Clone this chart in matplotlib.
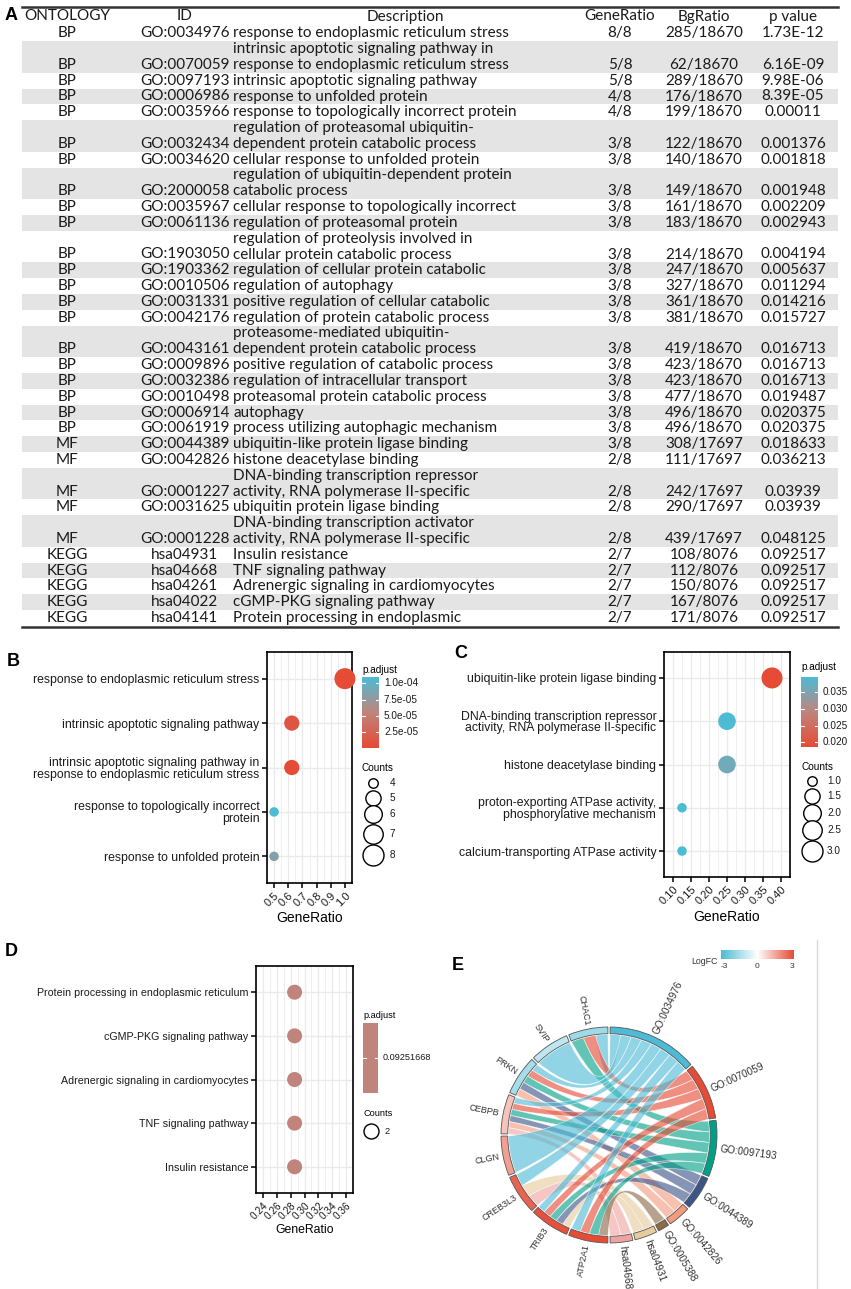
import numpy as np
import matplotlib.pyplot as plt
from matplotlib.colors import LinearSegmentedColormap, Normalize
from matplotlib.path import Path
from matplotlib.patches import PathPatch, Wedge, Rectangle

plt.rcParams['font.family'] = ['Liberation Sans', 'DejaVu Sans']

# ---------------- panel A: table ----------------
ontology = ['BP'] * 21 + ['MF'] * 5 + ['KEGG'] * 5
term_ids = ['GO:0034976', 'GO:0070059', 'GO:0097193', 'GO:0006986', 'GO:0035966',
            'GO:0032434', 'GO:0034620', 'GO:2000058', 'GO:0035967', 'GO:0061136',
            'GO:1903050', 'GO:1903362', 'GO:0010506', 'GO:0031331', 'GO:0042176',
            'GO:0043161', 'GO:0009896', 'GO:0032386', 'GO:0010498', 'GO:0006914',
            'GO:0061919', 'GO:0044389', 'GO:0042826', 'GO:0001227', 'GO:0031625',
            'GO:0001228', 'hsa04931', 'hsa04668', 'hsa04261', 'hsa04022', 'hsa04141']
descriptions = [
    'response to endoplasmic reticulum stress',
    'intrinsic apoptotic signaling pathway in\nresponse to endoplasmic reticulum stress',
    'intrinsic apoptotic signaling pathway',
    'response to unfolded protein',
    'response to topologically incorrect protein',
    'regulation of proteasomal ubiquitin-\ndependent protein catabolic process',
    'cellular response to unfolded protein',
    'regulation of ubiquitin-dependent protein\ncatabolic process',
    'cellular response to topologically incorrect',
    'regulation of proteasomal protein',
    'regulation of proteolysis involved in\ncellular protein catabolic process',
    'regulation of cellular protein catabolic',
    'regulation of autophagy',
    'positive regulation of cellular catabolic',
    'regulation of protein catabolic process',
    'proteasome-mediated ubiquitin-\ndependent protein catabolic process',
    'positive regulation of catabolic process',
    'regulation of intracellular transport',
    'proteasomal protein catabolic process',
    'autophagy',
    'process utilizing autophagic mechanism',
    'ubiquitin-like protein ligase binding',
    'histone deacetylase binding',
    'DNA-binding transcription repressor\nactivity, RNA polymerase II-specific',
    'ubiquitin protein ligase binding',
    'DNA-binding transcription activator\nactivity, RNA polymerase II-specific',
    'Insulin resistance',
    'TNF signaling pathway',
    'Adrenergic signaling in cardiomyocytes',
    'cGMP-PKG signaling pathway',
    'Protein processing in endoplasmic']
gene_ratio = ['8/8', '5/8', '5/8', '4/8', '4/8'] + ['3/8'] * 17 + ['2/8'] * 4 + ['2/7'] * 5
bg_ratio = ['285/18670', '62/18670', '289/18670', '176/18670', '199/18670', '122/18670',
            '140/18670', '149/18670', '161/18670', '183/18670', '214/18670', '247/18670',
            '327/18670', '361/18670', '381/18670', '419/18670', '423/18670', '423/18670',
            '477/18670', '496/18670', '496/18670', '308/17697', '111/17697', '242/17697',
            '290/17697', '439/17697', '108/8076', '112/8076', '150/8076', '167/8076',
            '171/8076']
p_values = ['1.73E-12', '6.16E-09', '9.98E-06', '8.39E-05', '0.00011', '0.001376',
            '0.001818', '0.001948', '0.002209', '0.002943', '0.004194', '0.005637',
            '0.011294', '0.014216', '0.015727', '0.016713', '0.016713', '0.016713',
            '0.019487', '0.020375', '0.020375', '0.018633', '0.036213', '0.03939',
            '0.03939', '0.048125', '0.092517', '0.092517', '0.092517', '0.092517',
            '0.092517']
headers = ['ONTOLOGY', 'ID', 'Description', 'GeneRatio', 'BgRatio', 'p value']

# ---------------- panel B/C/D: dot plots ----------------
b_terms = ['response to endoplasmic reticulum stress',
           'intrinsic apoptotic signaling pathway',
           'intrinsic apoptotic signaling pathway in\nresponse to endoplasmic reticulum stress',
           'response to topologically incorrect\nprotein',
           'response to unfolded protein']
b_ratio = [1.0, 0.625, 0.625, 0.5, 0.5]
b_padj = [1.73e-12, 9.98e-06, 6.16e-09, 1.1e-04, 8.39e-05]
b_count = [8, 5, 5, 4, 4]

c_terms = ['ubiquitin-like protein ligase binding',
           'DNA-binding transcription repressor\nactivity, RNA polymerase II-specific',
           'histone deacetylase binding',
           'proton-exporting ATPase activity,\nphosphorylative mechanism',
           'calcium-transporting ATPase activity']
c_ratio = [0.375, 0.25, 0.25, 0.125, 0.125]
c_padj = [0.018633, 0.03939, 0.036213, 0.03939, 0.03939]
c_count = [3, 2, 2, 1, 1]

d_terms = ['Protein processing in endoplasmic reticulum', 'cGMP-PKG signaling pathway',
           'Adrenergic signaling in cardiomyocytes', 'TNF signaling pathway',
           'Insulin resistance']
d_ratio = [2 / 7] * 5
d_padj = [0.09251668] * 5
d_count = [2] * 5

# ---------------- panel E: chord ----------------
genes = ['CHAC1', 'SVIP', 'PRKN', 'CEBPB', 'CLGN', 'CREB3L3', 'TRIB3', 'ATP2A1']
gene_logfc = [-1.6, -1.1, -1.5, 1.0, 1.6, 2.6, 2.9, 3.0]
chord_terms = ['GO:0034976', 'GO:0070059', 'GO:0097193', 'GO:0044389', 'GO:0042826',
               'GO:0005388', 'hsa04931', 'hsa04668']
term_colors = ['#4DBBD5', '#E64B35', '#00A087', '#3C5488', '#F39B7F', '#8C6A48',
               '#E6CB9C', '#EFA3A0']
# rows = genes, cols = chord_terms
links = np.array([
    [1, 1, 1, 0, 0, 0, 0, 0],   # CHAC1
    [1, 0, 0, 0, 0, 0, 0, 0],   # SVIP
    [1, 1, 1, 1, 1, 0, 0, 0],   # PRKN
    [1, 1, 1, 1, 1, 0, 0, 1],   # CEBPB
    [1, 0, 0, 0, 0, 0, 0, 0],   # CLGN
    [1, 0, 0, 0, 0, 0, 1, 1],   # CREB3L3
    [1, 1, 1, 1, 0, 0, 1, 0],   # TRIB3
    [1, 1, 1, 0, 0, 1, 0, 0],   # ATP2A1
])

W, H = 851, 1289
fig = plt.figure(figsize=(W / 100, H / 100), dpi=100)


def px_axes(x0, y0, x1, y1):
    return fig.add_axes([x0 / W, 1 - y1 / H, (x1 - x0) / W, (y1 - y0) / H])


over = px_axes(0, 0, W, H)
over.set_xlim(0, W)
over.set_ylim(H, 0)
over.axis('off')

# ---- table ----
tfont = dict(family=['Lato', 'DejaVu Sans'], fontsize=11, color='#1a1a1a')
tx0, tx1 = 22, 838
col_x = [67, 185, 405, 620, 704, 793]
desc_left = 233
line_h = 15.8
over.plot([tx0, tx1], [7, 7], color='#333333', lw=1.8)
for x, h in zip(col_x, headers):
    over.text(x, 16.5, h, ha='center', va='center', **tfont)
y = 25.4
for i in range(len(term_ids)):
    lines = descriptions[i].split('\n')
    hgt = len(lines) * line_h
    if i % 2 == 1:
        over.add_patch(Rectangle((tx0, y), tx1 - tx0, hgt, color='#e4e4e4', lw=0))
    yb = y + hgt - line_h / 2
    over.text(col_x[0], yb, ontology[i], ha='center', va='center', **tfont)
    over.text(col_x[1], yb, term_ids[i], ha='center', va='center', **tfont)
    for k, ln in enumerate(lines):
        over.text(desc_left, y + line_h / 2 + k * line_h, ln, ha='left', va='center', **tfont)
    over.text(col_x[3], yb, gene_ratio[i], ha='center', va='center', **tfont)
    over.text(col_x[4], yb, bg_ratio[i], ha='center', va='center', **tfont)
    over.text(col_x[5], yb, p_values[i], ha='center', va='center', **tfont)
    y += hgt
over.plot([tx0, tx1], [y + 1.5, y + 1.5], color='#333333', lw=1.8)

# panel letters
for lab, (lx, ly) in zip('ABCDE', [(11, 15), (13, 661), (461, 654), (11, 952), (458, 965)]):
    over.text(lx, ly, lab, ha='center', va='center', fontsize=13, fontweight='bold')

padj_cmap = LinearSegmentedColormap.from_list('padj', ['#E64B35', '#C0847C', '#4EBBD5'])
fc_cmap = LinearSegmentedColormap.from_list('fc', ['#4DBBD5', '#FFFFFF', '#E64B35'])


def diam(c, cmin, cmax, dmin=9.5, dmax=21):
    if cmax == cmin:
        return 15.0
    return dmin + (dmax - dmin) * np.sqrt((np.asarray(c, float) - cmin) / (cmax - cmin))


def dot_panel(box, terms, ratio, padj, counts, xlim, xticks, xfmt, vmin, vmax,
              yfs=8.8, xfs=8, labfs=10):
    ax = px_axes(*box)
    yy = np.arange(len(terms))
    d = diam(counts, min(counts), max(counts))
    norm = Normalize(vmin, vmax) if vmax > vmin else Normalize(vmin - 1, vmin + 1)
    ax.scatter(ratio, yy, s=(d * 0.72) ** 2, c=padj, cmap=padj_cmap, norm=norm,
               edgecolors='none', zorder=3, clip_on=False)
    ax.set_xlim(xlim)
    ax.set_ylim(len(terms) - 0.4, -0.6)
    ax.set_xticks(xticks)
    step = xticks[1] - xticks[0]
    ax.set_xticks(np.arange(xticks[0] - step / 2, xticks[-1] + step, step), minor=True)
    ax.set_xticklabels([xfmt.format(v) for v in xticks], rotation=45, ha='right',
                       rotation_mode='anchor', fontsize=xfs, color='#1a1a1a')
    ax.set_yticks(yy)
    ax.set_yticklabels(terms, fontsize=yfs, color='#1a1a1a', linespacing=0.95)
    ax.grid(which='major', color='#ebebeb', lw=1.0, zorder=0)
    ax.grid(which='minor', axis='x', color='#ebebeb', lw=0.55, zorder=0)
    ax.set_axisbelow(True)
    ax.tick_params(which='major', length=3.5, width=1.1, pad=2)
    ax.tick_params(which='minor', length=0)
    for s in ax.spines.values():
        s.set_linewidth(1.2)
    ax.set_xlabel('GeneRatio', fontsize=labfs, labelpad=2)
    return norm


def colorbar_legend(x0, y0, x1, y1, norm, ticks, labels, single=False, fs=7.2):
    grad = np.linspace(1, 0, 100)[:, None]
    if single:
        over.add_patch(Rectangle((x0, y0), x1 - x0, y1 - y0,
                                 color=padj_cmap(0.5), lw=0))
    else:
        over.imshow(grad, extent=[x0, x1, y1, y0], aspect='auto', cmap=padj_cmap,
                    vmin=0, vmax=1, zorder=2)
    for t, lab in zip(ticks, labels):
        ty = (y0 + y1) / 2 if single else y1 - norm(t) * (y1 - y0)
        over.plot([x0, x0 + 3], [ty, ty], color='white', lw=0.8, zorder=3)
        over.plot([x1 - 3, x1], [ty, ty], color='white', lw=0.8, zorder=3)
        over.text(x1 + 5, ty, lab, ha='left', va='center', fontsize=fs, color='#1a1a1a')


def size_legend(x, ys, values, labels, lx, cmin, cmax, d=None, fs=7.2):
    for yv, v, lab in zip(ys, values, labels):
        dd = diam(v, cmin, cmax) if d is None else d
        over.scatter([x], [yv], s=(dd * 0.72) ** 2, facecolors='white',
                     edgecolors='black', linewidths=1.0, zorder=3)
        over.text(lx, yv, lab, ha='left', va='center', fontsize=fs, color='#1a1a1a')


# B
nb = dot_panel((267, 652, 352, 883), b_terms, b_ratio, b_padj, b_count,
               (0.4775, 1.035), [0.5, 0.6, 0.7, 0.8, 0.9, 1.0], '{:.1f}',
               min(b_padj), max(b_padj))
over.text(362, 670, 'p.adjust', ha='left', va='center', fontsize=7.2)
colorbar_legend(362, 677, 379, 748, nb, [1e-4, 7.5e-5, 5e-5, 2.5e-5],
                ['1.0e-04', '7.5e-05', '5.0e-05', '2.5e-05'])
over.text(362, 768, 'Counts', ha='left', va='center', fontsize=7.2)
size_legend(373, [783, 798, 814, 834, 855], [4, 5, 6, 7, 8], ['4', '5', '6', '7', '8'],
            390, 4, 8)

# C
nc = dot_panel((664, 652, 790, 877), c_terms, c_ratio, c_padj, c_count,
               (0.0985, 0.402), [0.10, 0.15, 0.20, 0.25, 0.30, 0.35, 0.40], '{:.2f}',
               min(c_padj), max(c_padj))
over.text(801, 667, 'p.adjust', ha='left', va='center', fontsize=7.2)
colorbar_legend(801, 677, 818, 747, nc, [0.035, 0.030, 0.025, 0.020],
                ['0.035', '0.030', '0.025', '0.020'])
over.text(801, 767, 'Counts', ha='left', va='center', fontsize=7.2)
size_legend(812, [781, 796, 813, 830, 851], [1.0, 1.5, 2.0, 2.5, 3.0],
            ['1.0', '1.5', '2.0', '2.5', '3.0'], 827, 1, 3)

# D
nd = dot_panel((256, 966, 353, 1193), d_terms, d_ratio, d_padj, d_count,
               (0.236, 0.3653), [0.24, 0.26, 0.28, 0.30, 0.32, 0.34, 0.36], '{:.2f}',
               min(d_padj), max(d_padj), yfs=7.7, xfs=7.2, labfs=8.8)
over.text(363, 1015, 'p.adjust', ha='left', va='center', fontsize=6.6)
colorbar_legend(363, 1023, 378, 1093, nd, [d_padj[0]], ['0.09251668'], single=True, fs=6.6)
over.text(363, 1113, 'Counts', ha='left', va='center', fontsize=6.6)
size_legend(371, [1131], [2], ['2'], 384, 2, 2, d=15, fs=6.6)

# ---------------- E: chord diagram ----------------
cx, cy, R = 609, 1135, 108
ax = px_axes(cx - 130, cy - 130, cx + 130, cy + 130)
ax.set_xlim(-130 / R, 130 / R)
ax.set_ylim(-130 / R, 130 / R)
ax.set_aspect('equal')
ax.axis('off')

gap = 1.2
free = 180 - gap * 8
unit = free / links.sum()
gw = free / len(genes)
fc_norm = Normalize(-3, 3)


def xy(p, r):
    th = np.radians(90 - np.asarray(p))
    return np.c_[r * np.cos(th), r * np.sin(th)]


# term sectors (clockwise from top)
term_span = []
p = gap / 2
for j in range(len(chord_terms)):
    w = links[:, j].sum() * unit
    term_span.append((p, p + w))
    p += w + gap
# gene sectors: clockwise from bottom, ATP2A1 first
gene_span = {}
p = 180 + gap / 2
for g in reversed(range(len(genes))):
    gene_span[g] = (p, p + gw)
    p += gw + gap

# link slots
term_slot = {}
for j in range(len(chord_terms)):
    p0 = term_span[j][0]
    for g in range(len(genes)):
        if links[g, j]:
            term_slot[(g, j)] = (p0, p0 + unit)
            p0 += unit
gene_slot = {}
for g in range(len(genes)):
    idx = [j for j in reversed(range(len(chord_terms))) if links[g, j]]
    w = gw / len(idx)
    p0 = gene_span[g][0]
    for j in idx:
        gene_slot[(g, j)] = (p0, p0 + w)
        p0 += w

rl = 0.93
for g in range(len(genes)):
    for j in range(len(chord_terms)):
        if not links[g, j]:
            continue
        A = xy(np.linspace(*gene_slot[(g, j)], 20), rl)
        B = xy(np.linspace(*term_slot[(g, j)], 20), rl)
        c1 = (A[-1] + B[0]) / 2 * 0.22
        c2 = (B[-1] + A[0]) / 2 * 0.22
        verts = list(A) + [c1, B[0]] + list(B[1:]) + [c2, A[0], A[0]]
        codes = ([Path.MOVETO] + [Path.LINETO] * (len(A) - 1) + [Path.CURVE3] * 2 +
                 [Path.LINETO] * (len(B) - 1) + [Path.CURVE3] * 2 + [Path.CLOSEPOLY])
        ax.add_patch(PathPatch(Path(verts, codes), facecolor=term_colors[j], alpha=0.62,
                               edgecolor='white', lw=0.5, zorder=2))

ring_w = 0.062
lab_r = 1.035
for j, (p0, p1) in enumerate(term_span):
    ax.add_patch(Wedge((0, 0), 1.0, 90 - p1, 90 - p0, width=ring_w,
                       facecolor=term_colors[j], edgecolor='#555555', lw=0.6, zorder=3))
    pm = (p0 + p1) / 2
    th = (90 - pm) % 360
    tx, ty = xy(pm, lab_r)[0]
    rot = th if (th <= 90 or th >= 270) else th - 180
    ha = 'left' if (th <= 90 or th >= 270) else 'right'
    ax.text(tx, ty, chord_terms[j], rotation=rot, rotation_mode='anchor', ha=ha,
            va='center', fontsize=7.2, color='#333333')
for g in range(len(genes)):
    p0, p1 = gene_span[g]
    ax.add_patch(Wedge((0, 0), 1.0, 90 - p1, 90 - p0, width=ring_w,
                       facecolor=fc_cmap(fc_norm(gene_logfc[g])), edgecolor='#555555',
                       lw=0.6, zorder=3))
    pm = (p0 + p1) / 2
    th = (90 - pm) % 360
    tx, ty = xy(pm, lab_r)[0]
    rot = th if (th <= 90 or th >= 270) else th - 180
    ha = 'left' if (th <= 90 or th >= 270) else 'right'
    ax.text(tx, ty, genes[g], rotation=rot, rotation_mode='anchor', ha=ha,
            va='center', fontsize=6.5, color='#333333')

# LogFC legend
over.imshow(np.linspace(-3, 3, 200)[None, :], extent=[721, 794, 959, 950], aspect='auto',
            cmap=fc_cmap, vmin=-3, vmax=3, zorder=2)
over.text(718, 961, 'LogFC', ha='right', va='center', fontsize=6.3, color='#333333')
for v, lx in zip([-3, 0, 3], [724, 757, 792]):
    over.text(lx, 967, str(v), ha='center', va='center', fontsize=6, color='#333333')
over.plot([817, 817], [940, H], color='#d9d9d9', lw=1)

fig.savefig('out.png', dpi=100)
